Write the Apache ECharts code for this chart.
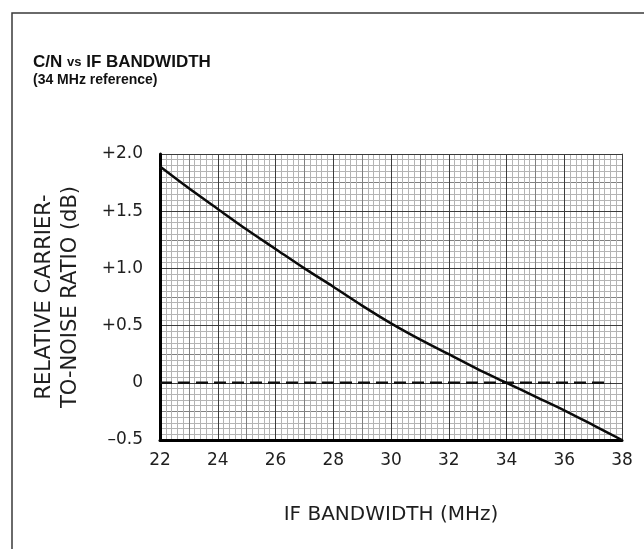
<!DOCTYPE html>
<html>
<head>
<meta charset="utf-8">
<script src="https://cdn.jsdelivr.net/npm/echarts@6/dist/echarts.min.js"></script>
<style>html,body{margin:0;padding:0;background:#fff}#c{width:644px;height:549px}</style>
</head>
<body>
<div id="c"></div>
<script>
// Data
const bandwidth = [22, 23, 24, 25, 26, 27, 28, 29, 30, 31, 32, 33, 34, 35, 36, 37, 38];
const relCN = [1.89, 1.70, 1.52, 1.34, 1.17, 1.00, 0.84, 0.675, 0.52, 0.38, 0.25, 0.12, 0, -0.12, -0.24, -0.37, -0.5];
const refLineX = [22, 37.6];
const refLineY = [0, 0];
const xTicks = [22, 24, 26, 28, 30, 32, 34, 36, 38];
const yTickLabels = {'-0.5': '\u20130.5', '0': '0', '0.5': '+0.5', '1': '+1.0', '1.5': '+1.5', '2': '+2.0'};

const chart = echarts.init(document.getElementById('c'), null, {renderer: 'canvas'});
const fine = '#b4b4b4', medium = '#808080', major = '#3c3c3c';
const labelFont = {fontFamily: 'DejaVu Sans', fontSize: 17, color: '#1e1e1e'};
const titleFont = "'Liberation Sans', Arial, sans-serif";

chart.setOption({
  animation: false,
  backgroundColor: '#fff',
  title: [
    {
      left: 33, top: 52, padding: 0,
      text: '{b|C/N }{s|vs}{b| IF BANDWIDTH}',
      textStyle: {
        rich: {
          b: {fontFamily: titleFont, fontWeight: 'bold', fontSize: 17, color: '#111', lineHeight: 20},
          s: {fontFamily: titleFont, fontWeight: 'bold', fontSize: 13, color: '#111', lineHeight: 20}
        }
      }
    },
    {
      left: 33, top: 71, padding: 0,
      text: '(34 MHz reference)',
      textStyle: {fontFamily: titleFont, fontWeight: 'bold', fontSize: 14, color: '#111', lineHeight: 18}
    }
  ],
  graphic: [{
    type: 'rect', z: 100,
    shape: {x: 12, y: 13, width: 700, height: 620},
    style: {fill: 'none', stroke: '#3a3a3a', lineWidth: 1.5}
  }],
  grid: {left: 160, right: 22, top: 154, bottom: 109, containLabel: false},
  xAxis: [
    {
      type: 'value', min: 22, max: 38, interval: 2, position: 'bottom', z: 3,
      axisLine: {show: true, onZero: false, lineStyle: {color: '#000', width: 3}},
      axisTick: {show: false},
      axisLabel: Object.assign({margin: 12, customValues: xTicks, formatter: v => String(v)}, labelFont),
      splitLine: {show: true, lineStyle: {color: major, width: 1}},
      name: 'IF BANDWIDTH (MHz)', nameLocation: 'middle', nameGap: 65,
      nameTextStyle: {fontFamily: 'DejaVu Sans', fontSize: 20, color: '#1e1e1e'}
    },
    {
      type: 'value', min: 22, max: 38, interval: 1, position: 'top', z: 1,
      axisLine: {show: true, onZero: false, lineStyle: {color: '#666', width: 1}},
      axisTick: {show: false}, axisLabel: {show: false},
      splitLine: {show: true, lineStyle: {color: medium, width: 1}},
      minorTick: {show: false, splitNumber: 5},
      minorSplitLine: {show: true, lineStyle: {color: fine, width: 1}}
    }
  ],
  yAxis: [
    {
      type: 'value', min: -0.5, max: 2.0, interval: 0.5, position: 'left', z: 3,
      axisLine: {show: true, onZero: false, lineStyle: {color: '#000', width: 3}},
      axisTick: {show: false},
      axisLabel: Object.assign({margin: 17, formatter: v => yTickLabels[String(v)] ?? String(v)}, labelFont),
      splitLine: {show: true, lineStyle: {color: major, width: 1}},
      name: 'RELATIVE CARRIER-\nTO-NOISE RATIO (dB)', nameLocation: 'middle', nameGap: 76,
      nameTextStyle: {fontFamily: 'DejaVu Sans', fontSize: 21, lineHeight: 26, color: '#1e1e1e', align: 'center'}
    },
    {
      type: 'value', min: -0.5, max: 2.0, interval: 0.25, position: 'right', z: 1,
      axisLine: {show: true, onZero: false, lineStyle: {color: '#666', width: 1}},
      axisTick: {show: false}, axisLabel: {show: false},
      splitLine: {show: true, lineStyle: {color: medium, width: 1}},
      minorTick: {show: false, splitNumber: 5},
      minorSplitLine: {show: true, lineStyle: {color: fine, width: 1}}
    }
  ],
  series: [
    {
      type: 'line', xAxisIndex: 0, yAxisIndex: 0, z: 10,
      data: bandwidth.map((x, i) => [x, relCN[i]]),
      smooth: 0.3, showSymbol: false, symbol: 'none',
      lineStyle: {color: '#0a0a0a', width: 2.5}
    },
    {
      type: 'line', xAxisIndex: 0, yAxisIndex: 0, z: 9,
      data: refLineX.map((x, i) => [x, refLineY[i]]),
      showSymbol: false, symbol: 'none',
      lineStyle: {color: '#111', width: 2.5, type: [12, 6]}
    }
  ]
});
</script>
</body>
</html>
